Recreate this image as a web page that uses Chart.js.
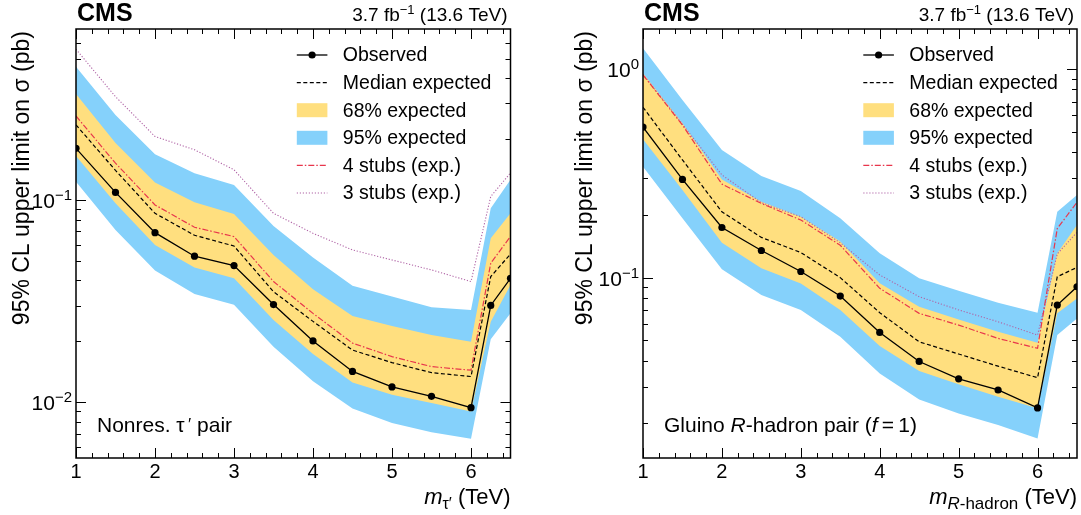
<!DOCTYPE html>
<html>
<head>
<meta charset="utf-8">
<script src="https://cdn.jsdelivr.net/npm/chart.js@4.4.1/dist/chart.umd.min.js"></script>
<style>
  body { margin: 0; background: #fff; width: 1081px; height: 515px; overflow: hidden; position: relative; }
  canvas { position: absolute; top: 0; }
</style>
</head>
<body>
<canvas id="tauChart" width="540" height="515" style="left:0px"></canvas>
<canvas id="gluinoChart" width="541" height="515" style="left:540px"></canvas>
<script>
// masses (TeV)
const massPoints = [1, 1.5, 2, 2.5, 3, 3.5, 4, 4.5, 5, 5.5, 6, 6.25, 6.5];

// nonresonant tau' pair (pb)
const tauObserved = [0.180, 0.109, 0.0689, 0.0527, 0.0474, 0.0304, 0.0201, 0.0142, 0.0119, 0.0107, 0.0094, 0.0301, 0.0410];
const tauMedian   = [0.235, 0.140, 0.0859, 0.0669, 0.0592, 0.0352, 0.0251, 0.0181, 0.0157, 0.0140, 0.0134, 0.0418, 0.054];
const tauStubs4   = [0.260, 0.152, 0.0945, 0.0733, 0.0659, 0.0395, 0.0275, 0.0196, 0.0168, 0.0150, 0.0144, 0.0487, 0.066];
const tauStubs3   = [0.556, 0.324, 0.206, 0.177, 0.141, 0.0859, 0.0684, 0.0566, 0.0505, 0.0451, 0.0395, 0.104, 0.136];
const tauUp68     = [0.334, 0.191, 0.122, 0.0974, 0.0853, 0.0534, 0.0362, 0.0267, 0.0238, 0.0215, 0.0199, 0.0647, 0.086];
const tauDown68   = [0.165, 0.0963, 0.0599, 0.0464, 0.0410, 0.0255, 0.0173, 0.0125, 0.0109, 0.0099, 0.0090, 0.0250, 0.038];
const tauUp95     = [0.456, 0.263, 0.168, 0.1355, 0.1186, 0.0744, 0.052, 0.0377, 0.0333, 0.0295, 0.0286, 0.091, 0.126];
const tauDown95   = [0.123, 0.0711, 0.0448, 0.0343, 0.0303, 0.0188, 0.0127, 0.0093, 0.0079, 0.0071, 0.0066, 0.0205, 0.0275];

// gluino R-hadron pair (pb)
const glObserved = [0.528, 0.296, 0.174, 0.135, 0.107, 0.0816, 0.0546, 0.0396, 0.0327, 0.0289, 0.0237, 0.0739, 0.0904];
const glMedian   = [0.657, 0.367, 0.207, 0.156, 0.132, 0.100, 0.0679, 0.0492, 0.0430, 0.0376, 0.0331, 0.101, 0.112];
const glStubs4   = [0.939, 0.540, 0.281, 0.227, 0.189, 0.143, 0.0889, 0.0674, 0.0592, 0.0511, 0.0458, 0.172, 0.230];
const glStubs3   = [0.945, 0.545, 0.311, 0.229, 0.196, 0.147, 0.103, 0.081, 0.070, 0.0614, 0.053, 0.130, 0.165];
const glUp68     = [0.957, 0.550, 0.296, 0.2315, 0.196, 0.149, 0.094, 0.0725, 0.063, 0.055, 0.0487, 0.131, 0.179];
const glDown68   = [0.461, 0.263, 0.147, 0.111, 0.0938, 0.0699, 0.0470, 0.0356, 0.0308, 0.0268, 0.0236, 0.0674, 0.0795];
const glUp95     = [1.261, 0.712, 0.410, 0.3075, 0.2604, 0.1926, 0.1308, 0.0992, 0.0865, 0.0757, 0.0679, 0.207, 0.249];
const glDown95   = [0.3406, 0.1926, 0.1096, 0.0825, 0.0699, 0.052, 0.0347, 0.026, 0.0223, 0.0196, 0.0169, 0.053, 0.0637];

// axis ticks
const xTickLabels = [1, 2, 3, 4, 5, 6];
const tauDecades = [-2, -1];
const gluinoDecades = [-1, 0];
const legendLabels = ["Observed", "Median expected", "68% expected", "95% expected", "4 stubs (exp.)", "3 stubs (exp.)"];

const FONT = "'Liberation Sans', Arial, Helvetica, sans-serif";
const BLUE = "#85D1FB";
const YELLOW = "#FFDF7F";
const RED = "#e8364c";
const PURPLE = "#b064a6";

function pts(values) {
  return massPoints.map((m, i) => ({ x: m, y: values[i] }));
}

function buildDatasets(s) {
  const clear = "rgba(0,0,0,0)";
  return [
    { data: pts(s.up95), fill: "+1", backgroundColor: BLUE, borderColor: clear, borderWidth: 1, pointRadius: 0, order: 8 },
    { data: pts(s.down95), fill: false, borderColor: clear, borderWidth: 1, pointRadius: 0, order: 7 },
    { data: pts(s.up68), fill: "+1", backgroundColor: YELLOW, borderColor: clear, borderWidth: 1, pointRadius: 0, order: 6 },
    { data: pts(s.down68), fill: false, borderColor: clear, borderWidth: 1, pointRadius: 0, order: 5 },
    { data: pts(s.stubs3), fill: false, borderColor: PURPLE, borderWidth: 1.1, borderDash: [1.2, 1.8], pointRadius: 0, order: 4 },
    { data: pts(s.stubs4), fill: false, borderColor: RED, borderWidth: 1.2, borderDash: [6, 2, 1.5, 2], pointRadius: 0, order: 3 },
    { data: pts(s.median), fill: false, borderColor: "#000", borderWidth: 1.2, borderDash: [4, 2.5], pointRadius: 0, order: 2 },
    { data: pts(s.observed), fill: false, borderColor: "#000", borderWidth: 1.3, pointRadius: 3.6,
      pointBackgroundColor: "#000", pointBorderWidth: 0, order: 1 }
  ];
}

// draws runs of text [{t, f, dy}] starting at x (or ending at x when align is right)
function drawRuns(ctx, runs, x, y, align) {
  let total = 0;
  runs.forEach(r => { ctx.font = r.f; total += ctx.measureText(r.t).width; });
  let cx = align === "right" ? x - total : (align === "center" ? x - total / 2 : x);
  ctx.textAlign = "left";
  runs.forEach(r => {
    ctx.font = r.f;
    ctx.fillText(r.t, cx, y + (r.dy || 0));
    cx += ctx.measureText(r.t).width;
  });
}

const cmsPlugin = {
  id: "cmsStyle",
  beforeDatasetsDraw(chart) {
    // inward ticks on all four sides, under the bands
    const ctx = chart.ctx, a = chart.chartArea;
    const xs = chart.scales.x, ys = chart.scales.y;
    ctx.save();
    ctx.strokeStyle = "#000";
    ctx.lineWidth = 1;
    ctx.beginPath();
    for (let i = 0; i <= 27; i++) {
      const v = 1 + i * 0.2;
      if (v > xs.max + 1e-6) break;
      const len = Math.abs(v - Math.round(v)) < 1e-6 ? 10 : 5;
      const px = Math.round(xs.getPixelForValue(v)) + 0.5;
      ctx.moveTo(px, a.bottom); ctx.lineTo(px, a.bottom - len);
      ctx.moveTo(px, a.top); ctx.lineTo(px, a.top + len);
    }
    const lo = Math.floor(Math.log10(ys.min)), hi = Math.ceil(Math.log10(ys.max));
    for (let d = lo; d <= hi; d++) {
      for (let k = 1; k <= 9; k++) {
        const v = k * Math.pow(10, d);
        if (v < ys.min || v > ys.max) continue;
        const len = k === 1 ? 10 : 5;
        const py = Math.round(ys.getPixelForValue(v)) + 0.5;
        ctx.moveTo(a.left, py); ctx.lineTo(a.left + len, py);
        ctx.moveTo(a.right, py); ctx.lineTo(a.right - len, py);
      }
    }
    ctx.stroke();
    ctx.restore();
  },
  afterDatasetsDraw(chart) {
    const ctx = chart.ctx, a = chart.chartArea;
    ctx.save();
    ctx.strokeStyle = "#000";
    ctx.lineWidth = 1.5;
    ctx.strokeRect(a.left, a.top, a.right - a.left, a.bottom - a.top);
    ctx.restore();
  },
  afterDraw(chart) {
    const ctx = chart.ctx, a = chart.chartArea;
    const o = chart.options.plugins.cmsStyle;
    const xs = chart.scales.x, ys = chart.scales.y;
    ctx.save();
    ctx.fillStyle = "#000";
    ctx.textBaseline = "alphabetic";

    // x tick labels
    ctx.font = "20px " + FONT;
    ctx.textAlign = "center";
    xTickLabels.forEach(v => ctx.fillText(String(v), xs.getPixelForValue(v), 478));

    // y tick labels 10^n
    o.decades.forEach(d => {
      const py = ys.getPixelForValue(Math.pow(10, d));
      const exp = d < 0 ? "\u2212" + Math.abs(d) : String(d);
      drawRuns(ctx, [{ t: "10", f: "21px " + FONT }, { t: exp, f: "15px " + FONT, dy: -8 }], a.left - 4, py + 8, "right");
    });

    // axis titles
    drawRuns(ctx, o.xTitle, a.right, 504, "right");
    ctx.save();
    ctx.translate(o.yTitleX, a.top + 2);
    ctx.rotate(-Math.PI / 2);
    ctx.font = "23px " + FONT;
    ctx.textAlign = "right";
    ctx.fillText("95% CL upper limit on \u03c3 (pb)", 0, 0);
    ctx.restore();

    // header
    ctx.font = "bold 25px " + FONT;
    ctx.textAlign = "left";
    ctx.fillText("CMS", a.left + 1, 21);
    drawRuns(ctx, [
      { t: "3.7 fb", f: "19px " + FONT },
      { t: "\u22121", f: "13px " + FONT, dy: -7 },
      { t: " (13.6 TeV)", f: "19px " + FONT }
    ], a.right - 3, 21, "right");

    // legend
    const hx0 = a.right - 213.7, hx1 = hx0 + 30.6, tx = hx0 + 46;
    legendLabels.forEach((lab, i) => {
      const y = a.top + 26 + i * 27.6;
      ctx.save();
      if (i === 2 || i === 3) {
        ctx.fillStyle = i === 2 ? YELLOW : BLUE;
        ctx.fillRect(hx0, y - 7, hx1 - hx0, 14);
      } else {
        ctx.beginPath();
        ctx.moveTo(hx0, y); ctx.lineTo(hx1, y);
        if (i === 0) { ctx.strokeStyle = "#000"; ctx.lineWidth = 1.3; }
        if (i === 1) { ctx.strokeStyle = "#000"; ctx.lineWidth = 1.2; ctx.setLineDash([4, 2.5]); }
        if (i === 4) { ctx.strokeStyle = RED; ctx.lineWidth = 1.2; ctx.setLineDash([6, 2, 1.5, 2]); }
        if (i === 5) { ctx.strokeStyle = PURPLE; ctx.lineWidth = 1.1; ctx.setLineDash([1.2, 1.8]); }
        ctx.stroke();
        if (i === 0) {
          ctx.beginPath();
          ctx.arc((hx0 + hx1) / 2, y, 3.6, 0, Math.PI * 2);
          ctx.fill();
        }
      }
      ctx.restore();
      ctx.font = "19.5px " + FONT;
      ctx.textAlign = "left";
      ctx.textBaseline = "middle";
      ctx.fillText(lab, tx, y + 1);
      ctx.textBaseline = "alphabetic";
    });

    // signal label
    drawRuns(ctx, o.note, a.left + 21, 432, "left");
    ctx.restore();
  }
};

function makeChart(id, series, opts) {
  const ctx = document.getElementById(id).getContext("2d");
  return new Chart(ctx, {
    type: "line",
    data: { datasets: buildDatasets(series) },
    options: {
      responsive: false,
      animation: false,
      events: [],
      layout: { padding: opts.padding },
      scales: {
        x: { type: "linear", min: 1, max: 6.5, display: false },
        y: { type: "logarithmic", min: opts.yMin, max: opts.yMax, display: false }
      },
      plugins: {
        legend: { display: false },
        tooltip: { enabled: false },
        filler: { propagate: false },
        cmsStyle: opts
      }
    },
    plugins: [cmsPlugin]
  });
}

makeChart("tauChart", {
  observed: tauObserved, median: tauMedian, stubs4: tauStubs4, stubs3: tauStubs3,
  up68: tauUp68, down68: tauDown68, up95: tauUp95, down95: tauDown95
}, {
  padding: { left: 76, right: 29.5, top: 29, bottom: 57 },
  yMin: 0.0053, yMax: 0.70,
  decades: tauDecades,
  yTitleX: 29,
  xTitle: [
    { t: "m", f: "italic 22px " + FONT },
    { t: "\u03c4\u2032", f: "16px " + FONT, dy: 5 },
    { t: " (TeV)", f: "22px " + FONT }
  ],
  note: [
    { t: "Nonres. \u03c4", f: "21px " + FONT },
    { t: "\u2009\u2032", f: "17px " + FONT, dy: -2 },
    { t: " pair", f: "21px " + FONT }
  ]
});

makeChart("gluinoChart", {
  observed: glObserved, median: glMedian, stubs4: glStubs4, stubs3: glStubs3,
  up68: glUp68, down68: glDown68, up95: glUp95, down95: glDown95
}, {
  padding: { left: 103, right: 4, top: 29, bottom: 57 },
  yMin: 0.01363, yMax: 1.56,
  decades: gluinoDecades,
  yTitleX: 52,
  xTitle: [
    { t: "m", f: "italic 22px " + FONT },
    { t: "R", f: "italic 17px " + FONT, dy: 5 },
    { t: "-hadron", f: "17px " + FONT, dy: 5 },
    { t: " (TeV)", f: "22px " + FONT }
  ],
  note: [
    { t: "Gluino ", f: "21px " + FONT },
    { t: "R", f: "italic 21px " + FONT },
    { t: "-hadron pair (", f: "21px " + FONT },
    { t: "f", f: "italic 21px " + FONT },
    { t: "\u2009=\u20091)", f: "21px " + FONT }
  ]
});
</script>
</body>
</html>
